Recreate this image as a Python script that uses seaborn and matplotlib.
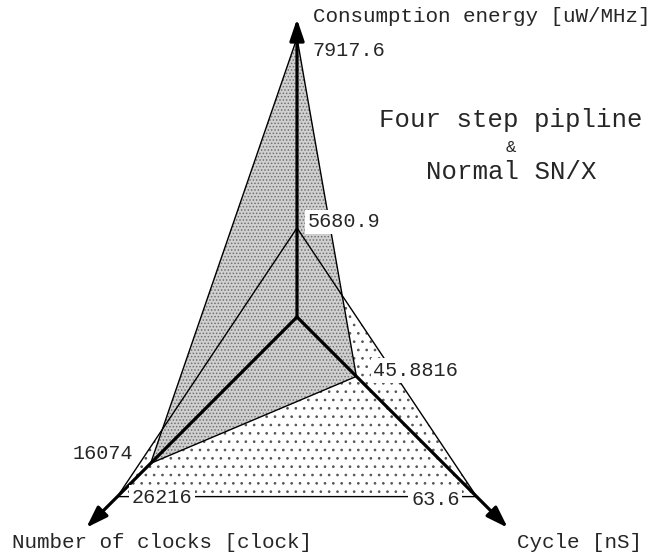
import numpy as np
import matplotlib
matplotlib.use("Agg")
import matplotlib.pyplot as plt
import seaborn as sns

# three axes of the radar chart
axis_names = ["Consumption energy [uW/MHz]", "Cycle [nS]", "Number of clocks [clock]"]
axis_angles = [90, -45, 225]
# value at the centre and value at the arrow tip of each axis
axis_lo = [4632.2, 37.127, -28594]
axis_hi = [8140.3, 68.186, 35711]

# the two series
pipeline_vals = [7917.6, 45.8816, 16074]
normal_vals = [5680.9, 63.6, 26216]

R = 298  # arrow length in axes units (pixels)

sns.set_theme(style="white")
plt.rcParams['font.family'] = ['Liberation Mono', 'DejaVu Sans Mono']
plt.rcParams['hatch.linewidth'] = 0.7


def to_xy(vals):
    xs, ys = [], []
    for v, lo, hi, a in zip(vals, axis_lo, axis_hi, axis_angles):
        r = (v - lo) / (hi - lo) * R
        xs.append(r * np.cos(np.radians(a)))
        ys.append(r * np.sin(np.radians(a)))
    return np.array(xs), np.array(ys)


fig = plt.figure(figsize=(6.72, 5.58), dpi=100)
ax = fig.add_axes([0, 0, 1, 1])
ax.set_xlim(-297, 375)
ax.set_ylim(-241, 317)
ax.axis('off')

nx, ny = to_xy(normal_vals)
px, py = to_xy(pipeline_vals)

# fills
ax.fill(nx, ny, facecolor='white', edgecolor='#555555', hatch='..', lw=0, zorder=1)
ax.fill(px, py, facecolor='#d0d0d0', edgecolor='#707070', hatch='.....', lw=0, zorder=2)

# outlines
for xs, ys in [(nx, ny), (px, py)]:
    sns.lineplot(x=np.append(xs, xs[0]), y=np.append(ys, ys[0]), sort=False,
                 estimator=None, color='black', lw=1.0, ax=ax, zorder=3)

# axes with arrows
for a in axis_angles:
    tip = (R * np.cos(np.radians(a)), R * np.sin(np.radians(a)))
    ax.annotate("", xy=tip, xytext=(0, 0), zorder=4,
                arrowprops=dict(arrowstyle='-|>,head_length=0.65,head_width=0.22',
                                mutation_scale=20, lw=2.3, color='black',
                                shrinkA=0, shrinkB=0))

# axis titles
title_offsets = [(16, 3, 'left'), (9, -15, 'left'), (-74, -15, 'left')]
for name, a, (dx, dy, ha) in zip(axis_names, axis_angles, title_offsets):
    tx, ty = R * np.cos(np.radians(a)), R * np.sin(np.radians(a))
    ax.text(tx + dx, ty + dy, name, ha=ha, va='center', fontsize=15, zorder=5)

# value labels
box = dict(facecolor='white', edgecolor='none', pad=2)
pipe_offsets = [(16, -13, 'left'), (17, 6, 'left'), (-17, 10, 'right')]
norm_offsets = [(11, 6, 'left'), (-17, -3, 'right'), (14, -1, 'left')]
for vals, xs, ys, offs in [(pipeline_vals, px, py, pipe_offsets),
                           (normal_vals, nx, ny, norm_offsets)]:
    for v, x, y, (dx, dy, ha) in zip(vals, xs, ys, offs):
        ax.text(x + dx, y + dy, f"{v:g}", ha=ha, va='center', fontsize=14.5,
                bbox=box, zorder=5)

ax.text(214, 197, "Four step pipline", ha='center', va='center', fontsize=18.5)
ax.text(214, 170, "&", ha='center', va='center', fontsize=12.5)
ax.text(214, 145, "Normal SN/X", ha='center', va='center', fontsize=18.5)

fig.savefig("out.png", dpi=100)
